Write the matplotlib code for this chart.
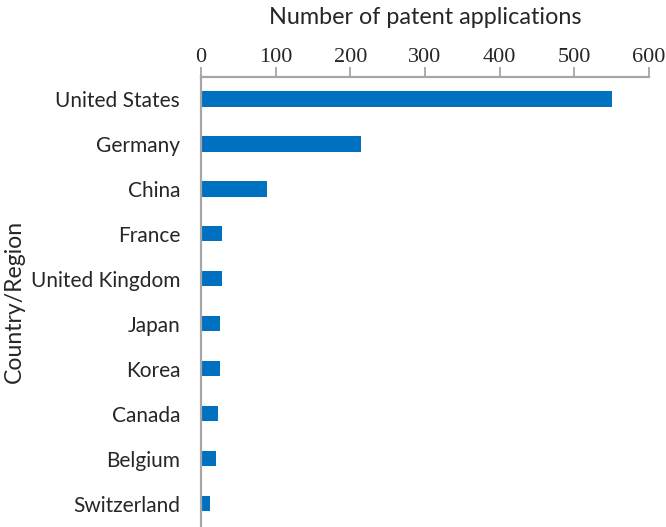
import matplotlib
matplotlib.use("Agg")
import matplotlib.pyplot as plt

BLUE = "#0070C0"
AXIS = "#A6A6A6"
TEXT = "#262626"

countries = ["United States", "Germany", "China", "France", "United Kingdom",
             "Japan", "Korea", "Canada", "Belgium", "Switzerland"]
applications = [550, 214, 88, 28, 28, 25, 25, 23, 20, 12]
xticks = [0, 100, 200, 300, 400, 500, 600]

fig = plt.figure(figsize=(6.66, 5.27), dpi=100)
ax = fig.add_axes([201 / 666, 1 - 526 / 527, 448 / 666, 449.5 / 527])

ypos = list(range(len(countries)))
ax.barh(ypos, applications, height=0.34, color=BLUE)
ax.set_ylim(len(countries) - 0.5, -0.5)
ax.set_xlim(0, 600)

ax.xaxis.tick_top()
ax.xaxis.set_label_position("top")
ax.set_xticks(xticks)
ax.set_xticklabels([str(t) for t in xticks], family="Liberation Serif",
                   fontsize=16, color=TEXT)
ax.tick_params(axis="x", direction="out", length=7, width=1.3, color=AXIS, pad=0)
ax.set_yticks(ypos)
ax.set_yticklabels(countries, family="Lato", fontsize=15, color=TEXT)
ax.tick_params(axis="y", length=0, pad=15)

for side in ("right", "bottom"):
    ax.spines[side].set_visible(False)
for side in ("top", "left"):
    ax.spines[side].set_color(AXIS)
    ax.spines[side].set_linewidth(1.6)

ax.set_xlabel("Number of patent applications", family="Lato", fontsize=16.8,
              color=TEXT, labelpad=17)
ax.set_ylabel("Country/Region", family="Lato", fontsize=16.6, color=TEXT,
              labelpad=4)

fig.savefig("out.png")
